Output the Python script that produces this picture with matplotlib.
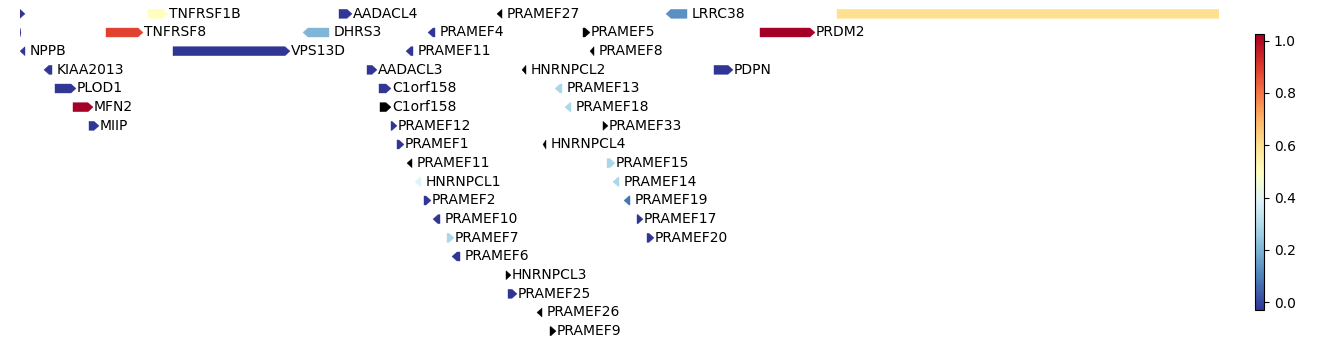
import numpy as np
import matplotlib
matplotlib.use('Agg')
import matplotlib.pyplot as plt
from matplotlib.patches import Polygon
from matplotlib.colors import Normalize
from matplotlib.cm import ScalarMappable

# gene track data (positions, arbitrary units)
names = ['', 'TNFRSF1B', 'AADACL4', 'PRAMEF27', 'LRRC38', '',
         '', 'TNFRSF8', 'DHRS3', 'PRAMEF4', 'PRAMEF5', 'PRDM2',
         'NPPB', 'VPS13D', 'PRAMEF11', 'PRAMEF8',
         'KIAA2013', 'AADACL3', 'HNRNPCL2', 'PDPN',
         'PLOD1', 'C1orf158', 'PRAMEF13',
         'MFN2', 'C1orf158', 'PRAMEF18',
         'MIIP', 'PRAMEF12', 'PRAMEF33',
         'PRAMEF1', 'HNRNPCL4',
         'PRAMEF11', 'PRAMEF15',
         'HNRNPCL1', 'PRAMEF14',
         'PRAMEF2', 'PRAMEF19',
         'PRAMEF10', 'PRAMEF17',
         'PRAMEF7', 'PRAMEF20',
         'PRAMEF6', 'HNRNPCL3', 'PRAMEF25', 'PRAMEF26', 'PRAMEF9']
starts = [20, 148, 339, 497, 666, 837,
          20, 106, 303, 428, 583, 760,
          20, 173, 406, 590,
          44, 367, 522, 714,
          55, 379, 555,
          73, 380, 565,
          89, 391, 603,
          397, 543,
          407, 607,
          415, 613,
          424, 624,
          433, 637,
          447, 647,
          452, 506, 508, 537, 550]
ends = [25, 168, 352, 502, 687, 1400,
        21, 143, 329, 435, 590, 815,
        25, 290, 413, 594,
        52, 377, 526, 733,
        76, 391, 562,
        93, 391, 571,
        99, 397, 608,
        404, 546,
        412, 615,
        421, 619,
        431, 630,
        440, 643,
        454, 654,
        460, 511, 517, 542, 556]
strands = ['+', '+', '+', '-', '-', '+',
           '+', '+', '-', '-', '+', '+',
           '-', '+', '-', '-',
           '-', '+', '-', '+',
           '+', '+', '-',
           '+', '+', '-',
           '+', '+', '+',
           '+', '-',
           '-', '+',
           '-', '-',
           '+', '-',
           '-', '+',
           '+', '+',
           '-', '+', '+', '-', '+']
rows = [0, 0, 0, 0, 0, 0,
        1, 1, 1, 1, 1, 1,
        2, 2, 2, 2,
        3, 3, 3, 3,
        4, 4, 4,
        5, 5, 5,
        6, 6, 6,
        7, 7,
        8, 8,
        9, 9,
        10, 10,
        11, 11,
        12, 12,
        13, 14, 15, 16, 17]
nan = np.nan
values = [0.0, 0.5, 0.0, nan, 0.15, 0.6,
          0.0, 0.87, 0.22, 0.0, nan, 1.0,
          0.0, 0.0, 0.0, nan,
          0.0, 0.0, nan, 0.0,
          0.0, 0.0, 0.3,
          1.0, nan, 0.3,
          0.0, 0.0, nan,
          0.0, nan,
          nan, 0.3,
          0.4, 0.3,
          0.0, 0.1,
          0.0, 0.0,
          0.3, 0.0,
          0.0, nan, 0.0, nan, nan]

cmap = plt.get_cmap('RdYlBu_r')
norm = Normalize(0, 1)

fig = plt.figure(figsize=(13.38, 3.44), dpi=100)
ax = fig.add_axes([20 / 1338, 3.5 / 344, 1199 / 1338, 336 / 344])

h = 0.48      # bar height in row units
hl = 5        # arrow head length

for name, s, e, st, r, v in zip(names, starts, ends, strands, rows, values):
    color = 'black' if np.isnan(v) else cmap(norm(v))
    L = e - s
    head = min(hl, L)
    if st == '+':
        pts = [(s, r - h / 2), (e - head, r - h / 2), (e, r),
               (e - head, r + h / 2), (s, r + h / 2)]
    else:
        pts = [(e, r - h / 2), (s + head, r - h / 2), (s, r),
               (s + head, r + h / 2), (e, r + h / 2)]
    ax.add_patch(Polygon(pts, closed=True, facecolor=color, edgecolor=color,
                         linewidth=0.3))
    if name:
        off = 1 if st == '+' else 5
        ax.text(e + off, r, name, va='center', ha='left', fontsize=10,
                clip_on=True)

ax.set_xlim(20, 1219)
ax.set_ylim(17.5, -0.5)
ax.axis('off')

cax = fig.add_axes([1255 / 1338, 34 / 344, 9 / 1338, 276 / 344])
sm = ScalarMappable(norm=Normalize(-0.03, 1.025), cmap=cmap)
cb = fig.colorbar(sm, cax=cax)
cb.set_ticks([0.0, 0.2, 0.4, 0.6, 0.8, 1.0])
cb.ax.tick_params(labelsize=10)

fig.savefig('out.png', dpi=100)
